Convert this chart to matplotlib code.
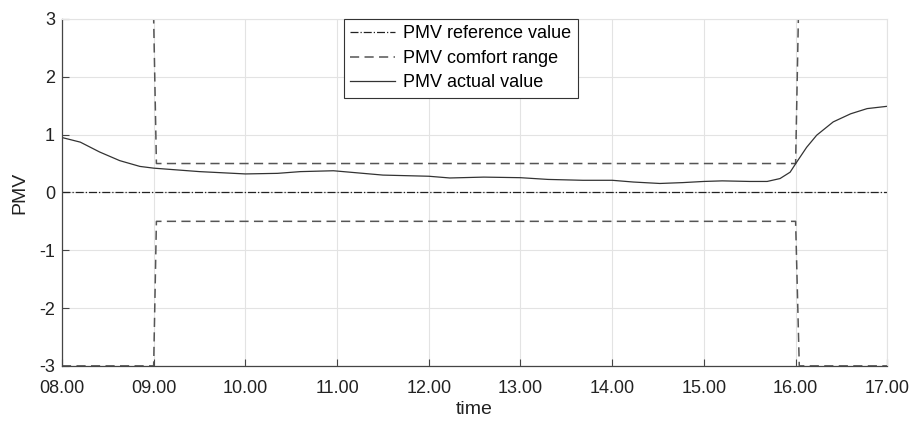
import matplotlib
matplotlib.use("Agg")
import matplotlib.pyplot as plt
from matplotlib.ticker import FuncFormatter

plt.rcParams['font.family'] = ['Liberation Sans', 'DejaVu Sans']
plt.rcParams['axes.unicode_minus'] = False

# time in hours
pmv_time = [8.0, 8.2, 8.41, 8.63, 8.85, 9.0, 9.5, 10.0, 10.35, 10.6, 10.96, 11.14, 11.5,
            12.0, 12.23, 12.6, 13.0, 13.3, 13.68, 14.0, 14.23, 14.52, 14.77, 15.0, 15.2,
            15.5, 15.69, 15.83, 15.94, 16.01, 16.12, 16.23, 16.41, 16.6, 16.78, 17.0]
pmv_actual = [0.95, 0.87, 0.70, 0.55, 0.45, 0.42, 0.36, 0.32, 0.33, 0.36, 0.375, 0.35, 0.30,
              0.28, 0.25, 0.265, 0.255, 0.225, 0.21, 0.21, 0.18, 0.155, 0.17, 0.19, 0.20,
              0.19, 0.19, 0.24, 0.35, 0.52, 0.78, 0.99, 1.22, 1.36, 1.45, 1.49]

upper_time = [8.0, 9.0, 9.03, 16.0, 16.03, 17.0]
upper_range = [3, 3, 0.5, 0.5, 3, 3]
lower_time = [8.0, 9.0, 9.03, 16.0, 16.04, 17.0]
lower_range = [-3, -3, -0.5, -0.5, -3, -3]

ref_time = [8.0, 17.0]
ref_value = [0, 0]

xticks = [8, 9, 10, 11, 12, 13, 14, 15, 16, 17]
yticks = [-3, -2, -1, 0, 1, 2, 3]

fig = plt.figure(figsize=(9.11, 4.22), dpi=100)
ax = fig.add_axes([0.068, 0.133, 0.906, 0.822])

ax.plot(ref_time, ref_value, linestyle='-.', color='#222222', lw=0.9, label='PMV reference value')
ax.plot(upper_time, upper_range, linestyle=(0, (6, 3.5)), color='#555555', lw=1.1, label='PMV comfort range')
ax.plot(lower_time, lower_range, linestyle=(0, (6, 3.5)), color='#555555', lw=1.1)
ax.plot(pmv_time, pmv_actual, linestyle='-', color='#333333', lw=0.9, label='PMV actual value')

ax.set_xlim(8, 17)
ax.set_ylim(-3, 3)
ax.set_xticks(xticks)
ax.set_yticks(yticks)
ax.xaxis.set_major_formatter(FuncFormatter(lambda v, p: f"{int(round(v)):02d}.00"))
ax.grid(True, color='#e3e3e3', lw=0.8)
ax.set_axisbelow(True)

for s in ['top', 'right']:
    ax.spines[s].set_color('#e3e3e3')
for s in ['left', 'bottom']:
    ax.spines[s].set_color('#444444')
    ax.spines[s].set_linewidth(0.9)

ax.tick_params(axis='both', direction='in', length=5, width=0.8, color='#444444',
               labelsize=13, labelcolor='#222222')
ax.tick_params(axis='x', pad=10)
ax.tick_params(axis='y', pad=5)
ax.set_xlabel('time', fontsize=14, color='#222222', labelpad=3)
ax.set_ylabel('PMV', fontsize=14, color='#222222', labelpad=8)

leg = ax.legend(loc='upper center', bbox_to_anchor=(0.483, 1.0), fontsize=13,
                frameon=True, fancybox=False, edgecolor='#333333', framealpha=1,
                handlelength=2.5, handletextpad=0.45, borderpad=0.35, labelspacing=0.42,
                borderaxespad=0)
leg.get_frame().set_linewidth(0.8)

fig.savefig('out.png', dpi=100)
